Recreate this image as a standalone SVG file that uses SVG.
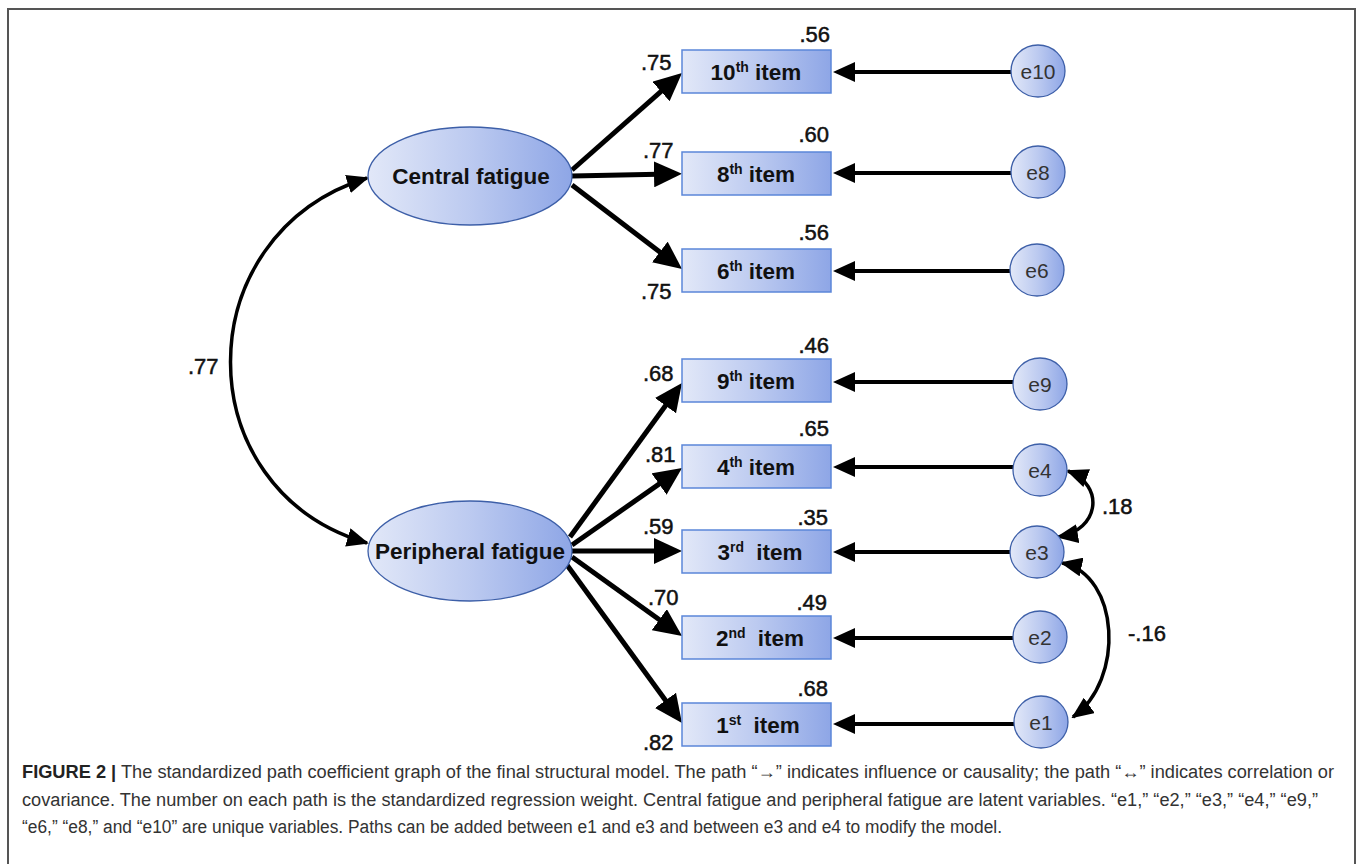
<svg xmlns="http://www.w3.org/2000/svg" width="1357" height="864" viewBox="0 0 1357 864">
<style>
.lat{stroke:#3d5fa8;stroke-width:1.3;fill:url(#g)}
.box{stroke:#5b86d9;stroke-width:1.5;fill:url(#g)}
.err{stroke:#3d5fa8;stroke-width:1.3;fill:url(#g)}
.nt{font-family:"Liberation Sans",Arial,sans-serif;font-weight:bold;font-size:22.5px;fill:#111;text-anchor:middle}
.sup{font-size:14px}
.et{font-family:"Liberation Sans",Arial,sans-serif;font-size:21px;fill:#333;text-anchor:middle}
.lb{font-family:"Liberation Sans",Arial,sans-serif;font-size:22px;fill:#111;stroke:#111;stroke-width:0.5}
.r{text-anchor:end}
.big{stroke:#000;stroke-width:5;fill:none}
.mid{stroke:#000;stroke-width:4;fill:none}
.cv{stroke:#000;stroke-width:3.5;fill:none}
.cap{font-family:"Liberation Sans",Arial,sans-serif;font-size:18px;fill:#333}
</style>
<defs>
<linearGradient id="g" x1="0" y1="0" x2="1" y2="0">
<stop offset="0" stop-color="#e2e8f8"/>
<stop offset="0.5" stop-color="#bccaf0"/>
<stop offset="1" stop-color="#8ea6e6"/>
</linearGradient>
<marker id="ab" markerUnits="userSpaceOnUse" markerWidth="28" markerHeight="26" refX="16" refY="13" orient="auto" viewBox="0 0 28 26"><path d="M0,0 L28,13 L0,26 z" fill="#000"/></marker>
<marker id="am" markerUnits="userSpaceOnUse" markerWidth="22" markerHeight="20" refX="12" refY="10" orient="auto" viewBox="0 0 22 20"><path d="M0,0 L22,10 L0,20 z" fill="#000"/></marker>
<marker id="ac" markerUnits="userSpaceOnUse" markerWidth="22" markerHeight="19" refX="20" refY="9.5" orient="auto-start-reverse" viewBox="0 0 22 19"><path d="M0,0 L22,9.5 L0,19 z" fill="#000"/></marker>
</defs>
<rect x="0" y="0" width="1357" height="864" fill="#fff"/>
<path d="M8,864 V9 H1355 V864" fill="none" stroke="#555" stroke-width="2"/>

<g id="connectors">
<path class="big" d="M572,170 L673,80.9" marker-end="url(#ab)"/>
<path class="big" d="M572,176 L670,174" marker-end="url(#ab)"/>
<path class="big" d="M572,185 L672.5,261.7" marker-end="url(#ab)"/>
<path class="big" d="M570,537 L674.9,392.7" marker-end="url(#ab)"/>
<path class="big" d="M572,545 L672.2,474.9" marker-end="url(#ab)"/>
<path class="big" d="M572,551 L670,551" marker-end="url(#ab)"/>
<path class="big" d="M572,557 L672.3,629" marker-end="url(#ab)"/>
<path class="big" d="M567,565 L674.9,713.3" marker-end="url(#ab)"/>
<path class="mid" d="M1011,72 L843,72" marker-end="url(#am)"/>
<path class="mid" d="M1011,173 L843,173" marker-end="url(#am)"/>
<path class="mid" d="M1010,271 L843,271" marker-end="url(#am)"/>
<path class="mid" d="M1013,382 L843,382" marker-end="url(#am)"/>
<path class="mid" d="M1013,467 L843,467" marker-end="url(#am)"/>
<path class="mid" d="M1010,552 L843,552" marker-end="url(#am)"/>
<path class="mid" d="M1013,638 L843,638" marker-end="url(#am)"/>
<path class="mid" d="M1014,724 L843,724" marker-end="url(#am)"/>
<path class="cv" d="M367,178 C185,235 185,490 367,543" marker-start="url(#ac)" marker-end="url(#ac)"/>
<path class="cv" d="M1068,471 C1105,485 1100,530 1058,537" marker-start="url(#ac)" marker-end="url(#ac)"/>
<path class="cv" d="M1062,563 C1120,575 1125,680 1073,717" marker-start="url(#ac)" marker-end="url(#ac)"/>
</g>

<g id="central">
<ellipse class="lat" cx="470" cy="176" rx="102" ry="49"/>
<text class="nt" x="471" y="184">Central fatigue</text>
</g>
<g id="peripheral">
<ellipse class="lat" cx="470" cy="551" rx="102" ry="50"/>
<text class="nt" x="470" y="559">Peripheral fatigue</text>
</g>

<g id="item10"><rect class="box" x="682" y="50" width="149" height="43"/><text class="nt" x="756" y="80">10<tspan class="sup" dy="-8">th</tspan><tspan dy="8"> item</tspan></text></g>
<g id="item8"><rect class="box" x="682" y="152" width="149" height="43"/><text class="nt" x="756" y="182">8<tspan class="sup" dy="-8">th</tspan><tspan dy="8"> item</tspan></text></g>
<g id="item6"><rect class="box" x="682" y="249" width="149" height="43"/><text class="nt" x="756" y="279">6<tspan class="sup" dy="-8">th</tspan><tspan dy="8"> item</tspan></text></g>
<g id="item9"><rect class="box" x="682" y="359" width="149" height="43"/><text class="nt" x="756" y="389">9<tspan class="sup" dy="-8">th</tspan><tspan dy="8"> item</tspan></text></g>
<g id="item4"><rect class="box" x="682" y="445" width="149" height="43"/><text class="nt" x="756" y="475">4<tspan class="sup" dy="-8">th</tspan><tspan dy="8"> item</tspan></text></g>
<g id="item3"><rect class="box" x="682" y="530" width="149" height="43"/><text class="nt" x="760" y="560">3<tspan class="sup" dy="-8">rd</tspan><tspan dy="8" dx="6"> item</tspan></text></g>
<g id="item2"><rect class="box" x="682" y="616" width="149" height="43"/><text class="nt" x="760" y="646">2<tspan class="sup" dy="-8">nd</tspan><tspan dy="8" dx="6"> item</tspan></text></g>
<g id="item1"><rect class="box" x="682" y="703" width="149" height="43"/><text class="nt" x="758" y="733">1<tspan class="sup" dy="-8">st</tspan><tspan dy="8" dx="6"> item</tspan></text></g>

<g id="e10"><ellipse class="err" cx="1038" cy="71" rx="27" ry="26"/><text class="et" x="1038" y="79">e10</text></g>
<g id="e8"><ellipse class="err" cx="1038" cy="172" rx="27" ry="26"/><text class="et" x="1038" y="180">e8</text></g>
<g id="e6"><ellipse class="err" cx="1037" cy="270" rx="27" ry="26"/><text class="et" x="1037" y="278">e6</text></g>
<g id="e9"><ellipse class="err" cx="1040" cy="384" rx="27" ry="26"/><text class="et" x="1040" y="392">e9</text></g>
<g id="e4"><ellipse class="err" cx="1040" cy="470" rx="27" ry="26"/><text class="et" x="1040" y="478">e4</text></g>
<g id="e3"><ellipse class="err" cx="1037" cy="552" rx="27" ry="26"/><text class="et" x="1037" y="560">e3</text></g>
<g id="e2"><ellipse class="err" cx="1040" cy="637" rx="27" ry="26"/><text class="et" x="1040" y="645">e2</text></g>
<g id="e1"><ellipse class="err" cx="1041" cy="722" rx="27" ry="26"/><text class="et" x="1041" y="730">e1</text></g>

<g id="labels">
<text class="lb r" x="830" y="42">.56</text>
<text class="lb" x="641" y="70">.75</text>
<text class="lb r" x="829" y="142">.60</text>
<text class="lb" x="643" y="158">.77</text>
<text class="lb r" x="829" y="240">.56</text>
<text class="lb" x="641" y="299">.75</text>
<text class="lb r" x="829" y="353">.46</text>
<text class="lb" x="643" y="381">.68</text>
<text class="lb r" x="829" y="436">.65</text>
<text class="lb" x="645" y="462">.81</text>
<text class="lb r" x="828" y="525">.35</text>
<text class="lb" x="643" y="534">.59</text>
<text class="lb" x="648" y="605">.70</text>
<text class="lb r" x="827" y="610">.49</text>
<text class="lb r" x="828" y="696">.68</text>
<text class="lb" x="643" y="750">.82</text>
<text class="lb" x="188" y="374">.77</text>
<text class="lb" x="1102" y="514">.18</text>
<text class="lb" x="1128" y="641">-.16</text>
</g>

<g id="caption">
<text class="cap" x="22" y="778" textLength="1312" lengthAdjust="spacingAndGlyphs"><tspan font-weight="bold" fill="#222">FIGURE 2 |</tspan> The standardized path coefficient graph of the final structural model. The path “→” indicates influence or causality; the path “↔” indicates correlation or</text>
<text class="cap" x="22" y="806" textLength="1296" lengthAdjust="spacingAndGlyphs">covariance. The number on each path is the standardized regression weight. Central fatigue and peripheral fatigue are latent variables. “e1,” “e2,” “e3,” “e4,” “e9,”</text>
<text class="cap" x="22" y="833" textLength="980" lengthAdjust="spacingAndGlyphs">“e6,” “e8,” and “e10” are unique variables. Paths can be added between e1 and e3 and between e3 and e4 to modify the model.</text>
</g>
</svg>
